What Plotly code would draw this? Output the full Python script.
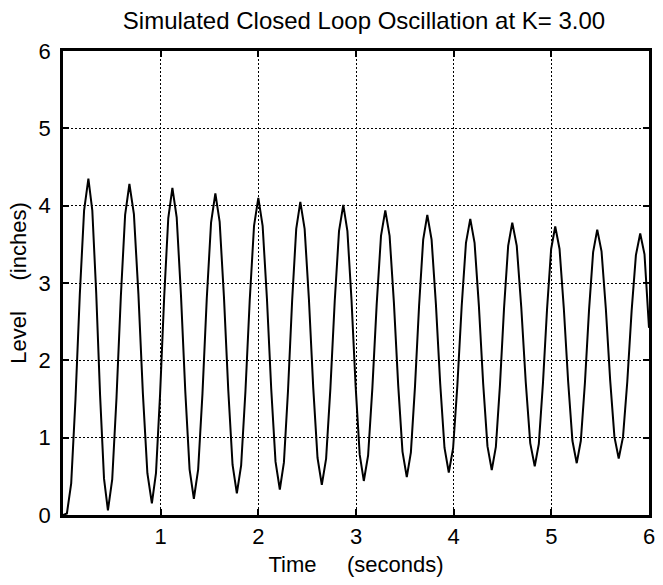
import plotly.graph_objects as go

# Time (seconds)
time_s = [
    0.00, 0.04, 0.084, 0.128, 0.172, 0.216, 0.26,
    0.30, 0.34, 0.38, 0.42, 0.46,
    0.504, 0.548, 0.592, 0.636, 0.68,
    0.726, 0.772, 0.818, 0.864, 0.91,
    0.952, 0.994, 1.036, 1.078, 1.12,
    1.164, 1.208, 1.252, 1.296, 1.34,
    1.384, 1.428, 1.472, 1.516, 1.56,
    1.604, 1.648, 1.692, 1.736, 1.78,
    1.824, 1.868, 1.912, 1.956, 2.00,
    2.044, 2.088, 2.132, 2.176, 2.22,
    2.262, 2.304, 2.346, 2.388, 2.43,
    2.474, 2.518, 2.562, 2.606, 2.65,
    2.694, 2.738, 2.782, 2.826, 2.87,
    2.912, 2.954, 2.996, 3.038, 3.08,
    3.124, 3.168, 3.212, 3.256, 3.30,
    3.344, 3.388, 3.432, 3.476, 3.52,
    3.562, 3.604, 3.646, 3.688, 3.73,
    3.774, 3.818, 3.862, 3.906, 3.95,
    3.994, 4.038, 4.082, 4.126, 4.17,
    4.214, 4.258, 4.302, 4.346, 4.39,
    4.432, 4.474, 4.516, 4.558, 4.60,
    4.646, 4.692, 4.738, 4.784, 4.83,
    4.872, 4.914, 4.956, 4.998, 5.04,
    5.084, 5.128, 5.172, 5.216, 5.26,
    5.302, 5.344, 5.386, 5.428, 5.47,
    5.514, 5.558, 5.602, 5.646, 5.69,
    5.734, 5.778, 5.822, 5.866, 5.91,
    5.954, 6.00,
]

# Level (inches)
level_in = [
    0.00, 0.02, 0.41, 1.50, 2.85, 3.94, 4.35,
    3.94, 2.87, 1.54, 0.47, 0.06,
    0.46, 1.52, 2.82, 3.88, 4.28,
    3.89, 2.86, 1.57, 0.54, 0.15,
    0.54, 1.56, 2.82, 3.84, 4.23,
    3.85, 2.84, 1.60, 0.59, 0.21,
    0.59, 1.57, 2.80, 3.78, 4.16,
    3.79, 2.82, 1.62, 0.65, 0.28,
    0.64, 1.60, 2.78, 3.74, 4.10,
    3.74, 2.80, 1.63, 0.69, 0.33,
    0.68, 1.61, 2.77, 3.70, 4.05,
    3.70, 2.79, 1.65, 0.74, 0.39,
    0.73, 1.64, 2.76, 3.67, 4.01,
    3.67, 2.78, 1.67, 0.78, 0.44,
    0.77, 1.65, 2.73, 3.61, 3.94,
    3.61, 2.75, 1.68, 0.82, 0.49,
    0.81, 1.66, 2.71, 3.56, 3.88,
    3.56, 2.73, 1.70, 0.87, 0.55,
    0.86, 1.68, 2.70, 3.52, 3.83,
    3.52, 2.71, 1.70, 0.89, 0.58,
    0.88, 1.68, 2.68, 3.48, 3.78,
    3.48, 2.69, 1.72, 0.93, 0.63,
    0.92, 1.70, 2.66, 3.44, 3.73,
    3.44, 2.67, 1.73, 0.96, 0.67,
    0.96, 1.71, 2.65, 3.40, 3.69,
    3.41, 2.67, 1.75, 1.01, 0.73,
    1.01, 1.73, 2.64, 3.36, 3.64,
    3.37, 2.42,
]

x_ticks = [1, 2, 3, 4, 5, 6]
y_ticks = [0, 1, 2, 3, 4, 5, 6]

FONT = "Liberation Sans, Arial, sans-serif"

fig = go.Figure()
fig.add_trace(go.Scatter(
    x=time_s, y=level_in, mode="lines",
    line=dict(color="black", width=2),
    showlegend=False,
))

fig.update_layout(
    width=663, height=585,
    margin=dict(l=63, r=8, t=51, b=70),
    paper_bgcolor="white", plot_bgcolor="white",
    font=dict(family=FONT, size=22, color="black"),
    title=dict(
        text="Simulated Closed Loop Oscillation at K= 3.00",
        x=0.549, xanchor="center", y=0.965, yanchor="middle",
        font=dict(family=FONT, size=24, color="black"),
    ),
)

axis_common = dict(
    showline=True, linecolor="black", linewidth=2.5, mirror="ticks",
    ticks="inside", ticklen=6, tickwidth=1.5, tickcolor="black",
    showgrid=True, gridcolor="black", gridwidth=1.3, griddash="2px,2px",
    zeroline=False,
    tickfont=dict(family=FONT, size=22, color="black"),
)

fig.update_xaxes(
    range=[0, 6], tickvals=x_ticks, ticktext=[str(v) for v in x_ticks],
    title=dict(text="Time&nbsp;&nbsp;&nbsp;&nbsp;&nbsp;(seconds)",
               font=dict(family=FONT, size=22, color="black"), standoff=9),
    **axis_common,
)
fig.update_yaxes(
    range=[0, 6], tickvals=y_ticks, ticktext=[str(v) for v in y_ticks],
    title=dict(text="Level&nbsp;&nbsp;&nbsp;&nbsp;&nbsp;(inches)",
               font=dict(family=FONT, size=22, color="black"), standoff=6),
    ticklabelstandoff=5,
    **axis_common,
)

fig.write_html("out.html")
